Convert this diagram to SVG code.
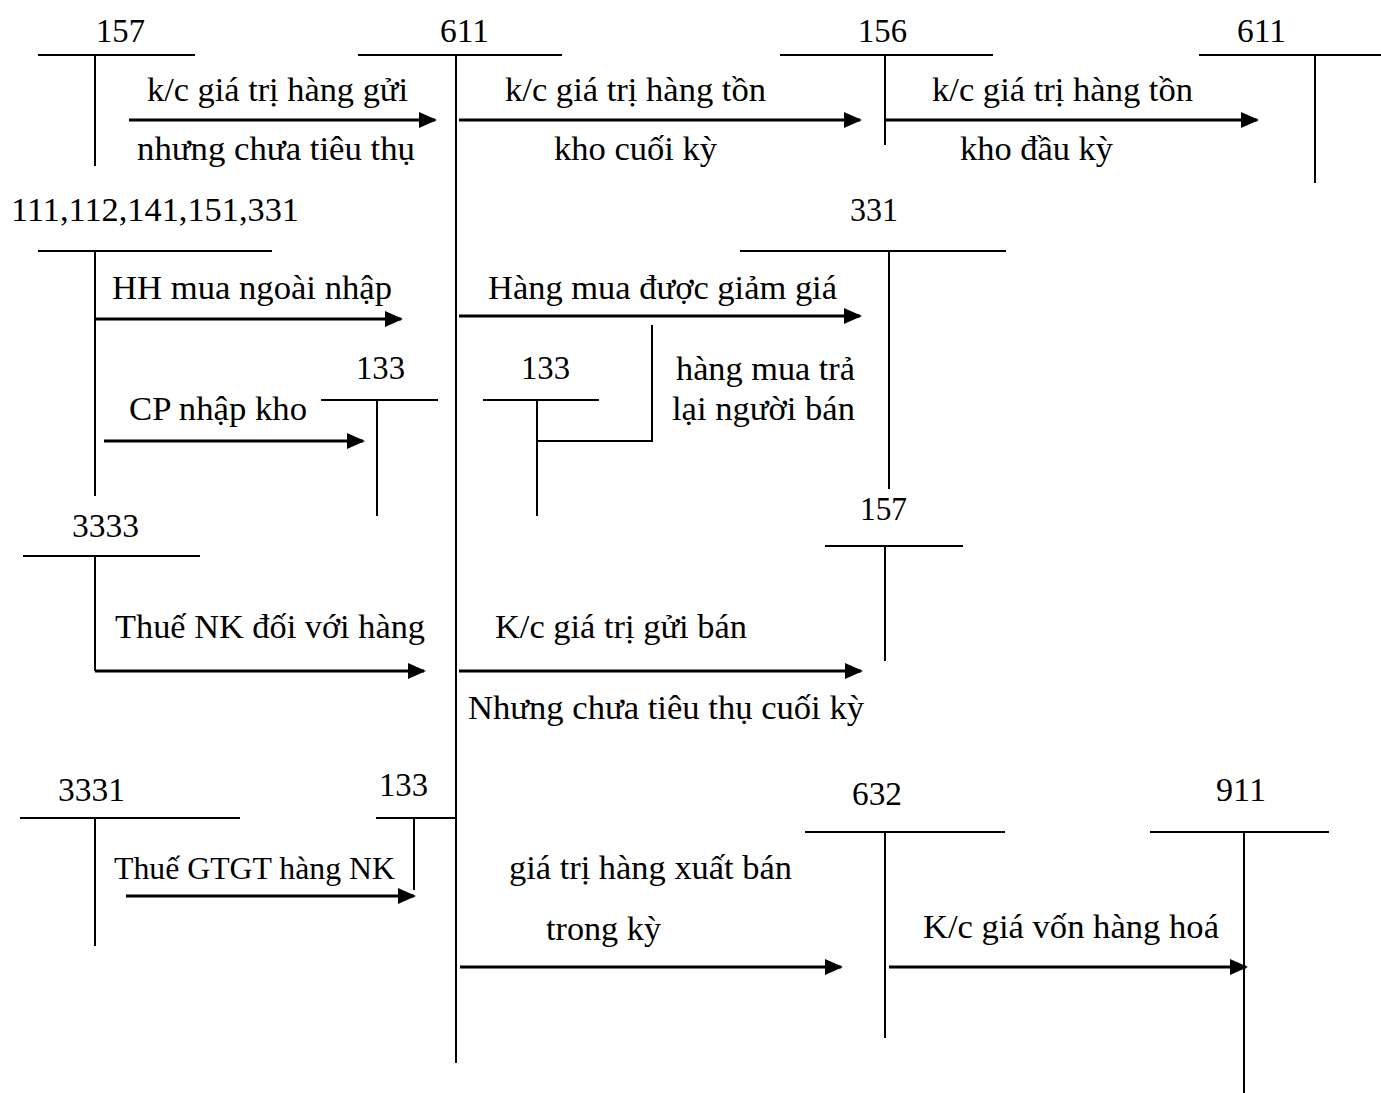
<svg xmlns="http://www.w3.org/2000/svg" width="1381" height="1093" viewBox="0 0 1381 1093">
<style>
text{font-family:"Liberation Serif","Times New Roman",serif;font-size:34px;fill:#000}
.sm{font-size:31px}
.t{stroke:#000;stroke-width:2;fill:none}
.a{stroke:#000;stroke-width:3;fill:none;marker-end:url(#ah)}
</style>
<defs>
<marker id="ah" markerUnits="userSpaceOnUse" markerWidth="18" markerHeight="16" refX="16" refY="8" orient="auto">
<path d="M0,0 L18,8 L0,16 Z" fill="#000"/>
</marker>
</defs>
<rect width="1381" height="1093" fill="#fff"/>

<g id="acc157top">
<text x="96" y="42" textLength="49" lengthAdjust="spacingAndGlyphs">157</text>
<line class="t" x1="38" y1="55" x2="195" y2="55"/>
<line class="t" x1="95" y1="55" x2="95" y2="166"/>
</g>
<g id="acc611main">
<text x="440" y="42" textLength="49" lengthAdjust="spacingAndGlyphs">611</text>
<line class="t" x1="358" y1="55" x2="562" y2="55"/>
<line class="t" x1="456" y1="55" x2="456" y2="1063"/>
</g>
<g id="acc156">
<text x="858" y="42" textLength="49" lengthAdjust="spacingAndGlyphs">156</text>
<line class="t" x1="780" y1="55" x2="993" y2="55"/>
<line class="t" x1="885" y1="55" x2="885" y2="145"/>
</g>
<g id="acc611right">
<text x="1237" y="42" textLength="49" lengthAdjust="spacingAndGlyphs">611</text>
<line class="t" x1="1199" y1="55" x2="1381" y2="55"/>
<line class="t" x1="1315" y1="55" x2="1315" y2="183"/>
</g>
<g id="acc111">
<text x="11" y="221" textLength="288" lengthAdjust="spacingAndGlyphs">111,112,141,151,331</text>
<line class="t" x1="38" y1="251" x2="272" y2="251"/>
<line class="t" x1="95" y1="251" x2="95" y2="496"/>
</g>
<g id="acc331">
<text x="850" y="221" textLength="48" lengthAdjust="spacingAndGlyphs">331</text>
<line class="t" x1="740" y1="251" x2="1006" y2="251"/>
<line class="t" x1="889" y1="251" x2="889" y2="489"/>
</g>
<g id="acc133a">
<text x="356" y="379" textLength="49" lengthAdjust="spacingAndGlyphs">133</text>
<line class="t" x1="321" y1="400" x2="438" y2="400"/>
<line class="t" x1="377" y1="400" x2="377" y2="516"/>
</g>
<g id="acc133b">
<text x="521" y="379" textLength="49" lengthAdjust="spacingAndGlyphs">133</text>
<line class="t" x1="483" y1="400" x2="599" y2="400"/>
<line class="t" x1="537" y1="400" x2="537" y2="516"/>
</g>
<g id="acc3333">
<text x="72" y="537" textLength="67" lengthAdjust="spacingAndGlyphs">3333</text>
<line class="t" x1="23" y1="556" x2="200" y2="556"/>
<line class="t" x1="95" y1="556" x2="95" y2="671"/>
</g>
<g id="acc157mid">
<text x="860" y="520" textLength="47" lengthAdjust="spacingAndGlyphs">157</text>
<line class="t" x1="825" y1="546" x2="963" y2="546"/>
<line class="t" x1="885" y1="546" x2="885" y2="661"/>
</g>
<g id="acc3331">
<text x="58" y="801" textLength="67" lengthAdjust="spacingAndGlyphs">3331</text>
<line class="t" x1="20" y1="818" x2="240" y2="818"/>
<line class="t" x1="95" y1="818" x2="95" y2="946"/>
</g>
<g id="acc133c">
<text x="379" y="796" textLength="49" lengthAdjust="spacingAndGlyphs">133</text>
<line class="t" x1="376" y1="818" x2="456" y2="818"/>
<line class="t" x1="414" y1="818" x2="414" y2="890"/>
</g>
<g id="acc632">
<text x="852" y="805" textLength="50" lengthAdjust="spacingAndGlyphs">632</text>
<line class="t" x1="805" y1="832" x2="1005" y2="832"/>
<line class="t" x1="885" y1="832" x2="885" y2="1038"/>
</g>
<g id="acc911">
<text x="1216" y="801" textLength="50" lengthAdjust="spacingAndGlyphs">911</text>
<line class="t" x1="1150" y1="832" x2="1329" y2="832"/>
<line class="t" x1="1244" y1="832" x2="1244" y2="1093"/>
</g>

<g id="connectors">
<line class="a" x1="129" y1="120" x2="435" y2="120"/>
<line class="a" x1="459" y1="120" x2="860" y2="120"/>
<line class="a" x1="885" y1="120" x2="1257" y2="120"/>
<line class="a" x1="95" y1="319" x2="401" y2="319"/>
<line class="a" x1="459" y1="316" x2="860" y2="316"/>
<line class="a" x1="104" y1="441" x2="363" y2="441"/>
<polyline class="t" points="537,441 652,441 652,325"/>
<line class="a" x1="95" y1="671" x2="424" y2="671"/>
<line class="a" x1="459" y1="671" x2="861" y2="671"/>
<line class="a" x1="126" y1="896" x2="414" y2="896"/>
<line class="a" x1="460" y1="967" x2="841" y2="967"/>
<line class="a" x1="889" y1="967" x2="1246" y2="967"/>
</g>

<g id="labels">
<text x="147" y="101" textLength="261" lengthAdjust="spacingAndGlyphs">k/c giá trị hàng gửi</text>
<text x="137" y="160" textLength="278" lengthAdjust="spacingAndGlyphs">nhưng chưa tiêu thụ</text>
<text x="505" y="101" textLength="261" lengthAdjust="spacingAndGlyphs">k/c giá trị hàng tồn</text>
<text x="554" y="160" textLength="163" lengthAdjust="spacingAndGlyphs">kho cuối kỳ</text>
<text x="932" y="101" textLength="261" lengthAdjust="spacingAndGlyphs">k/c giá trị hàng tồn</text>
<text x="960" y="160" textLength="153" lengthAdjust="spacingAndGlyphs">kho đầu kỳ</text>
<text x="112" y="299" textLength="280" lengthAdjust="spacingAndGlyphs">HH mua ngoài nhập</text>
<text x="488" y="299" textLength="349" lengthAdjust="spacingAndGlyphs">Hàng mua được giảm giá</text>
<text x="129" y="420" textLength="178" lengthAdjust="spacingAndGlyphs">CP nhập kho</text>
<text x="676" y="380" textLength="179" lengthAdjust="spacingAndGlyphs">hàng mua trả</text>
<text x="672" y="420" textLength="183" lengthAdjust="spacingAndGlyphs">lại người bán</text>
<text x="115" y="638" textLength="310" lengthAdjust="spacingAndGlyphs">Thuế NK đối với hàng</text>
<text x="495" y="638" textLength="252" lengthAdjust="spacingAndGlyphs">K/c giá trị gửi bán</text>
<text x="468" y="719" textLength="396" lengthAdjust="spacingAndGlyphs">Nhưng chưa tiêu thụ cuối kỳ</text>
<text class="sm" x="114" y="879" textLength="281" lengthAdjust="spacingAndGlyphs">Thuế GTGT hàng NK</text>
<text x="509" y="879" textLength="283" lengthAdjust="spacingAndGlyphs">giá trị hàng xuất bán</text>
<text x="546" y="940" textLength="115" lengthAdjust="spacingAndGlyphs">trong kỳ</text>
<text x="923" y="938" textLength="296" lengthAdjust="spacingAndGlyphs">K/c giá vốn hàng hoá</text>
</g>
</svg>
